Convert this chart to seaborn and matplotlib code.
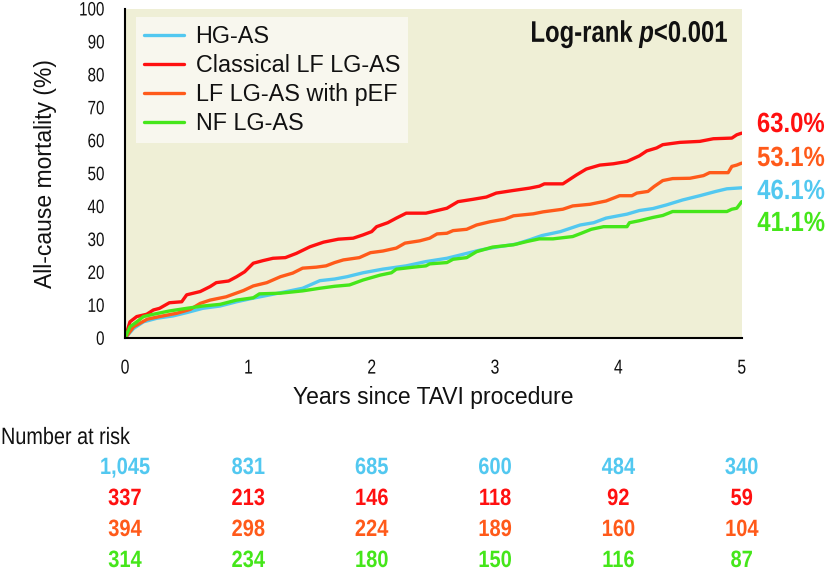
import matplotlib
matplotlib.use("Agg")
import matplotlib.pyplot as plt
from matplotlib.transforms import blended_transform_factory, Affine2D
from matplotlib.patheffects import AbstractPathEffect
import seaborn as sns
import pandas as pd

# ---------------- data ----------------
groups = ["HG-AS", "Classical LF LG-AS", "LF LG-AS with pEF", "NF LG-AS"]
colors = ["#52C8F0", "#FF1010", "#FF5A1A", "#45E61A"]

t_hg = [0, 0.07, 0.15, 0.26, 0.39, 0.5, 0.63, 0.77, 0.905, 1.04, 1.175, 1.31, 1.44, 1.58, 1.70,
        1.80, 1.93, 2.09, 2.28, 2.44, 2.61, 2.74, 2.88, 3.01, 3.17, 3.28, 3.38, 3.53, 3.69, 3.80,
        3.90, 4.07, 4.17, 4.28, 4.39, 4.52, 4.66, 4.79, 4.88, 5.0]
y_hg = [0, 3.0, 5.0, 6.1, 6.8, 7.8, 9.1, 9.8, 11.1, 12.2, 13.2, 14.2, 15.2, 17.5, 18.0,
        18.7, 19.9, 21.0, 22.0, 23.3, 24.3, 25.5, 26.8, 27.7, 28.6, 29.9, 31.2, 32.4, 34.4, 35.1,
        36.5, 37.7, 38.8, 39.4, 40.5, 42.0, 43.3, 44.6, 45.4, 45.7]

t_clf = [0, 0.008, 0.04, 0.095, 0.176, 0.23, 0.28, 0.36, 0.46, 0.5, 0.61, 0.69, 0.74, 0.84, 0.905,
         0.97, 1.04, 1.12, 1.2, 1.3, 1.39, 1.5, 1.61, 1.73, 1.85, 1.93, 2.0, 2.04, 2.13, 2.2,
         2.28, 2.44, 2.61, 2.70, 2.82, 2.93, 3.01, 3.15, 3.28, 3.36, 3.40, 3.55, 3.66, 3.74, 3.85,
         3.96, 4.07, 4.17, 4.23, 4.31, 4.36, 4.50, 4.66, 4.77, 4.92, 4.96, 5.0]
y_clf = [0, 1.0, 5.0, 6.6, 7.3, 8.6, 9.1, 10.8, 11.1, 13.2, 14.2, 15.7, 16.9, 17.4, 18.7,
         20.2, 22.8, 23.6, 24.3, 24.5, 25.8, 27.8, 29.2, 30.1, 30.4, 31.4, 32.4, 33.9, 35.1, 36.5,
         38.0, 38.0, 39.5, 41.5, 42.2, 42.9, 44.1, 44.9, 45.6, 46.2, 46.9, 46.9, 49.6, 51.4, 52.6,
         53.0, 53.7, 55.4, 56.9, 57.8, 58.8, 59.5, 59.8, 60.6, 60.8, 61.8, 62.3]

t_pef = [0, 0.07, 0.18, 0.28, 0.42, 0.53, 0.61, 0.69, 0.82, 0.96, 1.04, 1.15, 1.26, 1.36, 1.44,
         1.55, 1.63, 1.70, 1.77, 1.90, 1.99, 2.09, 2.2, 2.27, 2.39, 2.47, 2.53, 2.61, 2.66, 2.77,
         2.85, 2.96, 3.08, 3.15, 3.31, 3.39, 3.55, 3.63, 3.77, 3.90, 4.01, 4.11, 4.15, 4.24, 4.29,
         4.36, 4.44, 4.58, 4.69, 4.74, 4.89, 4.92, 4.96, 5.0]
y_pef = [0, 3.5, 5.8, 6.6, 7.6, 8.8, 10.6, 11.6, 12.6, 14.5, 15.9, 16.9, 18.7, 19.8, 21.3,
         21.6, 22.0, 23.0, 23.8, 24.5, 26.0, 26.5, 27.4, 28.9, 29.6, 30.4, 31.7, 31.9, 32.7, 33.1,
         34.4, 35.4, 36.2, 37.2, 37.8, 38.4, 39.2, 40.2, 40.7, 41.7, 43.3, 43.3, 44.1, 44.6, 46.1,
         47.9, 48.5, 48.6, 49.4, 50.3, 50.3, 52.2, 52.6, 53.2]

t_nf = [0, 0.04, 0.095, 0.15, 0.23, 0.36, 0.5, 0.63, 0.77, 0.905, 1.04, 1.09, 1.26, 1.44, 1.58,
        1.70, 1.82, 1.93, 2.07, 2.16, 2.2, 2.34, 2.44, 2.47, 2.61, 2.66, 2.77, 2.85, 2.98, 3.15,
        3.26, 3.36, 3.47, 3.63, 3.70, 3.78, 3.88, 4.07, 4.09, 4.17, 4.28, 4.36, 4.44, 4.88, 4.92,
        4.96, 5.0]
y_nf = [0, 3.5, 5.0, 6.6, 7.3, 8.3, 9.1, 9.8, 10.3, 11.6, 12.3, 13.5, 13.7, 14.4, 15.2,
        15.8, 16.2, 17.7, 19.2, 19.9, 21.0, 21.6, 22.0, 22.6, 23.0, 24.0, 24.5, 26.3, 27.7, 28.4,
        29.4, 30.2, 30.2, 30.9, 31.9, 33.1, 33.9, 33.9, 35.1, 35.7, 36.7, 37.3, 38.5, 38.5, 39.2,
        39.5, 41.5]

final_pct = ["46.1%", "63.0%", "53.1%", "41.1%"]
label_order = [1, 2, 0, 3]  # top-to-bottom order of end labels

risk_times = [0, 1, 2, 3, 4, 5]
risk_hg = ["1,045", "831", "685", "600", "484", "340"]
risk_clf = ["337", "213", "146", "118", "92", "59"]
risk_pef = ["394", "298", "224", "189", "160", "104"]
risk_nf = ["314", "234", "180", "150", "116", "87"]

x_ticks = [0, 1, 2, 3, 4, 5]
y_ticks = [0, 10, 20, 30, 40, 50, 60, 70, 80, 90, 100]


# horizontal condensing of text glyphs (the reference uses a condensed face)
class HCondense(AbstractPathEffect):
    def __init__(self, sx, anchor="left"):
        super().__init__()
        self.sx = sx
        self.anchor = anchor

    def draw_path(self, renderer, gc, tpath, affine, rgbFace=None):
        ext = tpath.get_extents()
        if self.anchor == "right":
            px = ext.x1
        elif self.anchor == "center":
            px = 0.5 * (ext.x0 + ext.x1)
        else:
            px = 0.0
        aff = Affine2D().translate(-px, 0).scale(self.sx, 1).translate(px, 0) + affine
        renderer.draw_path(gc, tpath, aff, rgbFace)


# ---------------- fonts ----------------
sns.set_theme(style="white")
FONT = "Liberation Sans"
plt.rcParams["font.family"] = [FONT, "DejaVu Sans"]
plt.rcParams["mathtext.fontset"] = "custom"
plt.rcParams["mathtext.it"] = f"{FONT}:italic:bold"
plt.rcParams["mathtext.rm"] = f"{FONT}:bold"
plt.rcParams["mathtext.bf"] = f"{FONT}:bold"

# ---------------- figure ----------------
W, H = 826, 573
fig = plt.figure(figsize=(W / 100, H / 100), dpi=100)
ax_l, ax_r, ax_t, ax_b = 125, 741.7, 9.0, 338.3
ax = fig.add_axes([ax_l / W, 1 - ax_b / H, (ax_r - ax_l) / W, (ax_b - ax_t) / H])
ax.set_facecolor("#EFEFD6")

series = [(t_hg, y_hg), (t_clf, y_clf), (t_pef, y_pef), (t_nf, y_nf)]
rows = []
for g, (ts, ys) in zip(groups, series):
    for t, y in zip(ts, ys):
        rows.append({"time": t, "mort": y, "group": g})
df = pd.DataFrame(rows)

sns.lineplot(data=df, x="time", y="mort", hue="group", hue_order=groups,
             palette=dict(zip(groups, colors)), estimator=None, sort=False,
             linewidth=2.4, ax=ax)

ax.set_xlim(0, 5)
ax.set_ylim(0, 100)
ax.set_xticks(x_ticks)
ax.set_yticks(y_ticks)
ax.set_xticklabels([str(v) for v in x_ticks], fontsize=14.5)
ax.set_yticklabels([str(v) for v in y_ticks], fontsize=14)
ax.tick_params(axis="both", direction="out", length=8.6, width=1.3, color="black",
               labelcolor="#111111")
ax.tick_params(axis="x", pad=6)
ax.tick_params(axis="y", pad=6)
for tl in ax.get_xticklabels():
    tl.set_path_effects([HCondense(0.78, "center")])
for tl in ax.get_yticklabels():
    tl.set_path_effects([HCondense(0.78, "right")])
for s in ["top", "right"]:
    ax.spines[s].set_visible(False)
for s in ["left", "bottom"]:
    ax.spines[s].set_color("black")
    ax.spines[s].set_linewidth(1.5)

ax.set_xlabel("Years since TAVI procedure", fontsize=16.5, color="#111111", va="center")
ax.set_ylabel("All-cause mortality (%)", fontsize=16.5, color="#111111", va="center")
ax.xaxis.set_label_coords(0.5, (ax_b - 397) / (ax_b - ax_t))
ax.yaxis.set_label_coords((46 - ax_l) / (ax_r - ax_l), 0.5)

# legend
handles, labels = ax.get_legend_handles_labels()
leg = ax.legend(handles, labels, loc="upper left",
                bbox_to_anchor=((136 - ax_l) / (ax_r - ax_l), (ax_b - 17) / (ax_b - ax_t)),
                borderaxespad=0, frameon=True, fancybox=False, framealpha=1,
                facecolor="#F8F7EE", edgecolor="none", fontsize=16.8,
                handlelength=1.7, handletextpad=0.5, labelspacing=0.25,
                borderpad=0.35)
for line in leg.get_lines():
    line.set_linewidth(2.4)
for txt in leg.get_texts():
    txt.set_color("#111111")

# log-rank text
lr = ax.text((729 - ax_l) / (ax_r - ax_l), (ax_b - 42) / (ax_b - ax_t), r"Log-rank $p$<0.001",
             transform=ax.transAxes, ha="right", va="baseline", fontsize=21.5,
             fontweight="bold", color="#111111")
lr.set_path_effects([HCondense(0.80, "right")])

# end-of-curve percentages
end_baselines = [132, 166, 199, 231]
for k, gi in enumerate(label_order):
    t = fig.text(825 / W, 1 - end_baselines[k] / H, final_pct[gi], ha="right", va="baseline",
                 fontsize=20, fontweight="bold", color=colors[gi])
    t.set_path_effects([HCondense(0.86, "right")])

# number at risk table
nr = fig.text(1 / W, 1 - 438 / H, "Number at risk", ha="left", va="center", fontsize=17,
              color="#111111")
nr.set_path_effects([HCondense(0.84, "left")])
trans = blended_transform_factory(ax.transData, fig.transFigure)
risk_rows = [risk_hg, risk_clf, risk_pef, risk_nf]
row_baselines = [474, 505, 536, 567]
for vals, col, yb in zip(risk_rows, colors, row_baselines):
    for t, v in zip(risk_times, vals):
        tx = fig.text(t, 1 - yb / H, v, transform=trans, ha="center", va="baseline",
                      fontsize=17, fontweight="bold", color=col, clip_on=False)
        tx.set_path_effects([HCondense(0.85, "center")])

fig.savefig("out.png", dpi=100)
